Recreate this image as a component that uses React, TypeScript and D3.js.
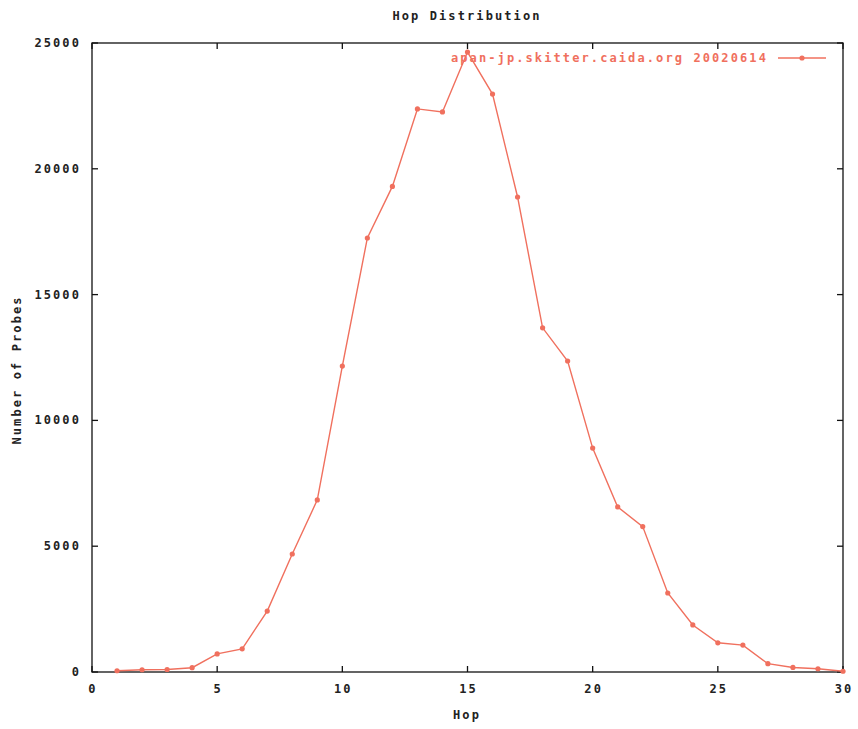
import React from "react";
import * as d3 from "d3";

const hops = [1,2,3,4,5,6,7,8,9,10,11,12,13,14,15,16,17,18,19,20,21,22,23,24,25,26,27,28,29,30];
const probes = [50,90,100,170,720,920,2420,4690,6840,12160,17250,19300,22380,22260,24640,22970,18880,13680,12360,8900,6560,5780,3140,1870,1160,1070,330,180,130,30];
const xTicks = [0,5,10,15,20,25,30];
const yTicks = [0,5000,10000,15000,20000,25000];
const seriesName = "apan-jp.skitter.caida.org 20020614";
const title = "Hop Distribution";
const xTitle = "Hop";
const yTitle = "Number of Probes";

const W = 858, H = 729;
const L = 92, R = 843, T = 43, B = 672;
const RED = "#f0705e";
const FONT = "'DejaVu Sans Mono', monospace";

export default function App() {
  const x = d3.scaleLinear().domain([0, 30]).range([L, R]);
  const y = d3.scaleLinear().domain([0, 25000]).range([B, T]);
  const line = d3.line<number>().x((_, i) => x(hops[i])).y((d) => y(d));
  const txt = { fontFamily: FONT, fontSize: 12, fontWeight: 700, letterSpacing: 2.1 } as const;
  const tl = 6;
  return (
    <svg width={W} height={H} style={{ position: "absolute", left: 0, top: 0, background: "#fff" }}>
      <rect x={0} y={0} width={W} height={H} fill="#fff" />
      <text x={467} y={20} textAnchor="middle" fill="#222" {...txt}>{title}</text>
      {/* frame */}
      <rect x={L} y={T} width={R - L} height={B - T} fill="none" stroke="#111" strokeWidth={1.3} />
      {xTicks.map((t) => (
        <g key={"x" + t}>
          <line x1={x(t)} x2={x(t)} y1={B} y2={B - tl} stroke="#111" strokeWidth={1.3} />
          <line x1={x(t)} x2={x(t)} y1={T} y2={T + tl} stroke="#111" strokeWidth={1.3} />
          <text x={x(t) + 1} y={693} textAnchor="middle" fill="#222" {...txt}>{t}</text>
        </g>
      ))}
      {yTicks.map((t) => (
        <g key={"y" + t}>
          <line x1={L} x2={L + tl} y1={y(t)} y2={y(t)} stroke="#111" strokeWidth={1.3} />
          <line x1={R} x2={R - tl} y1={y(t)} y2={y(t)} stroke="#111" strokeWidth={1.3} />
          <text x={81} y={y(t) + 4} textAnchor="end" fill="#222" {...txt}>{t}</text>
        </g>
      ))}
      <text x={467} y={719} textAnchor="middle" fill="#222" {...txt}>{xTitle}</text>
      <text transform={`translate(21,${370}) rotate(-90)`} textAnchor="middle" fill="#222" {...txt}>{yTitle}</text>
      {/* series */}
      <path d={line(probes) || ""} fill="none" stroke={RED} strokeWidth={1.4} />
      {probes.map((v, i) => (
        <circle key={i} cx={x(hops[i])} cy={y(v)} r={2.6} fill={RED} />
      ))}
      {/* legend */}
      <text x={768} y={62} textAnchor="end" fill={RED} {...txt}>{seriesName}</text>
      <line x1={778} x2={826} y1={58} y2={58} stroke={RED} strokeWidth={1.4} />
      <circle cx={802} cy={58} r={2.6} fill={RED} />
    </svg>
  );
}
